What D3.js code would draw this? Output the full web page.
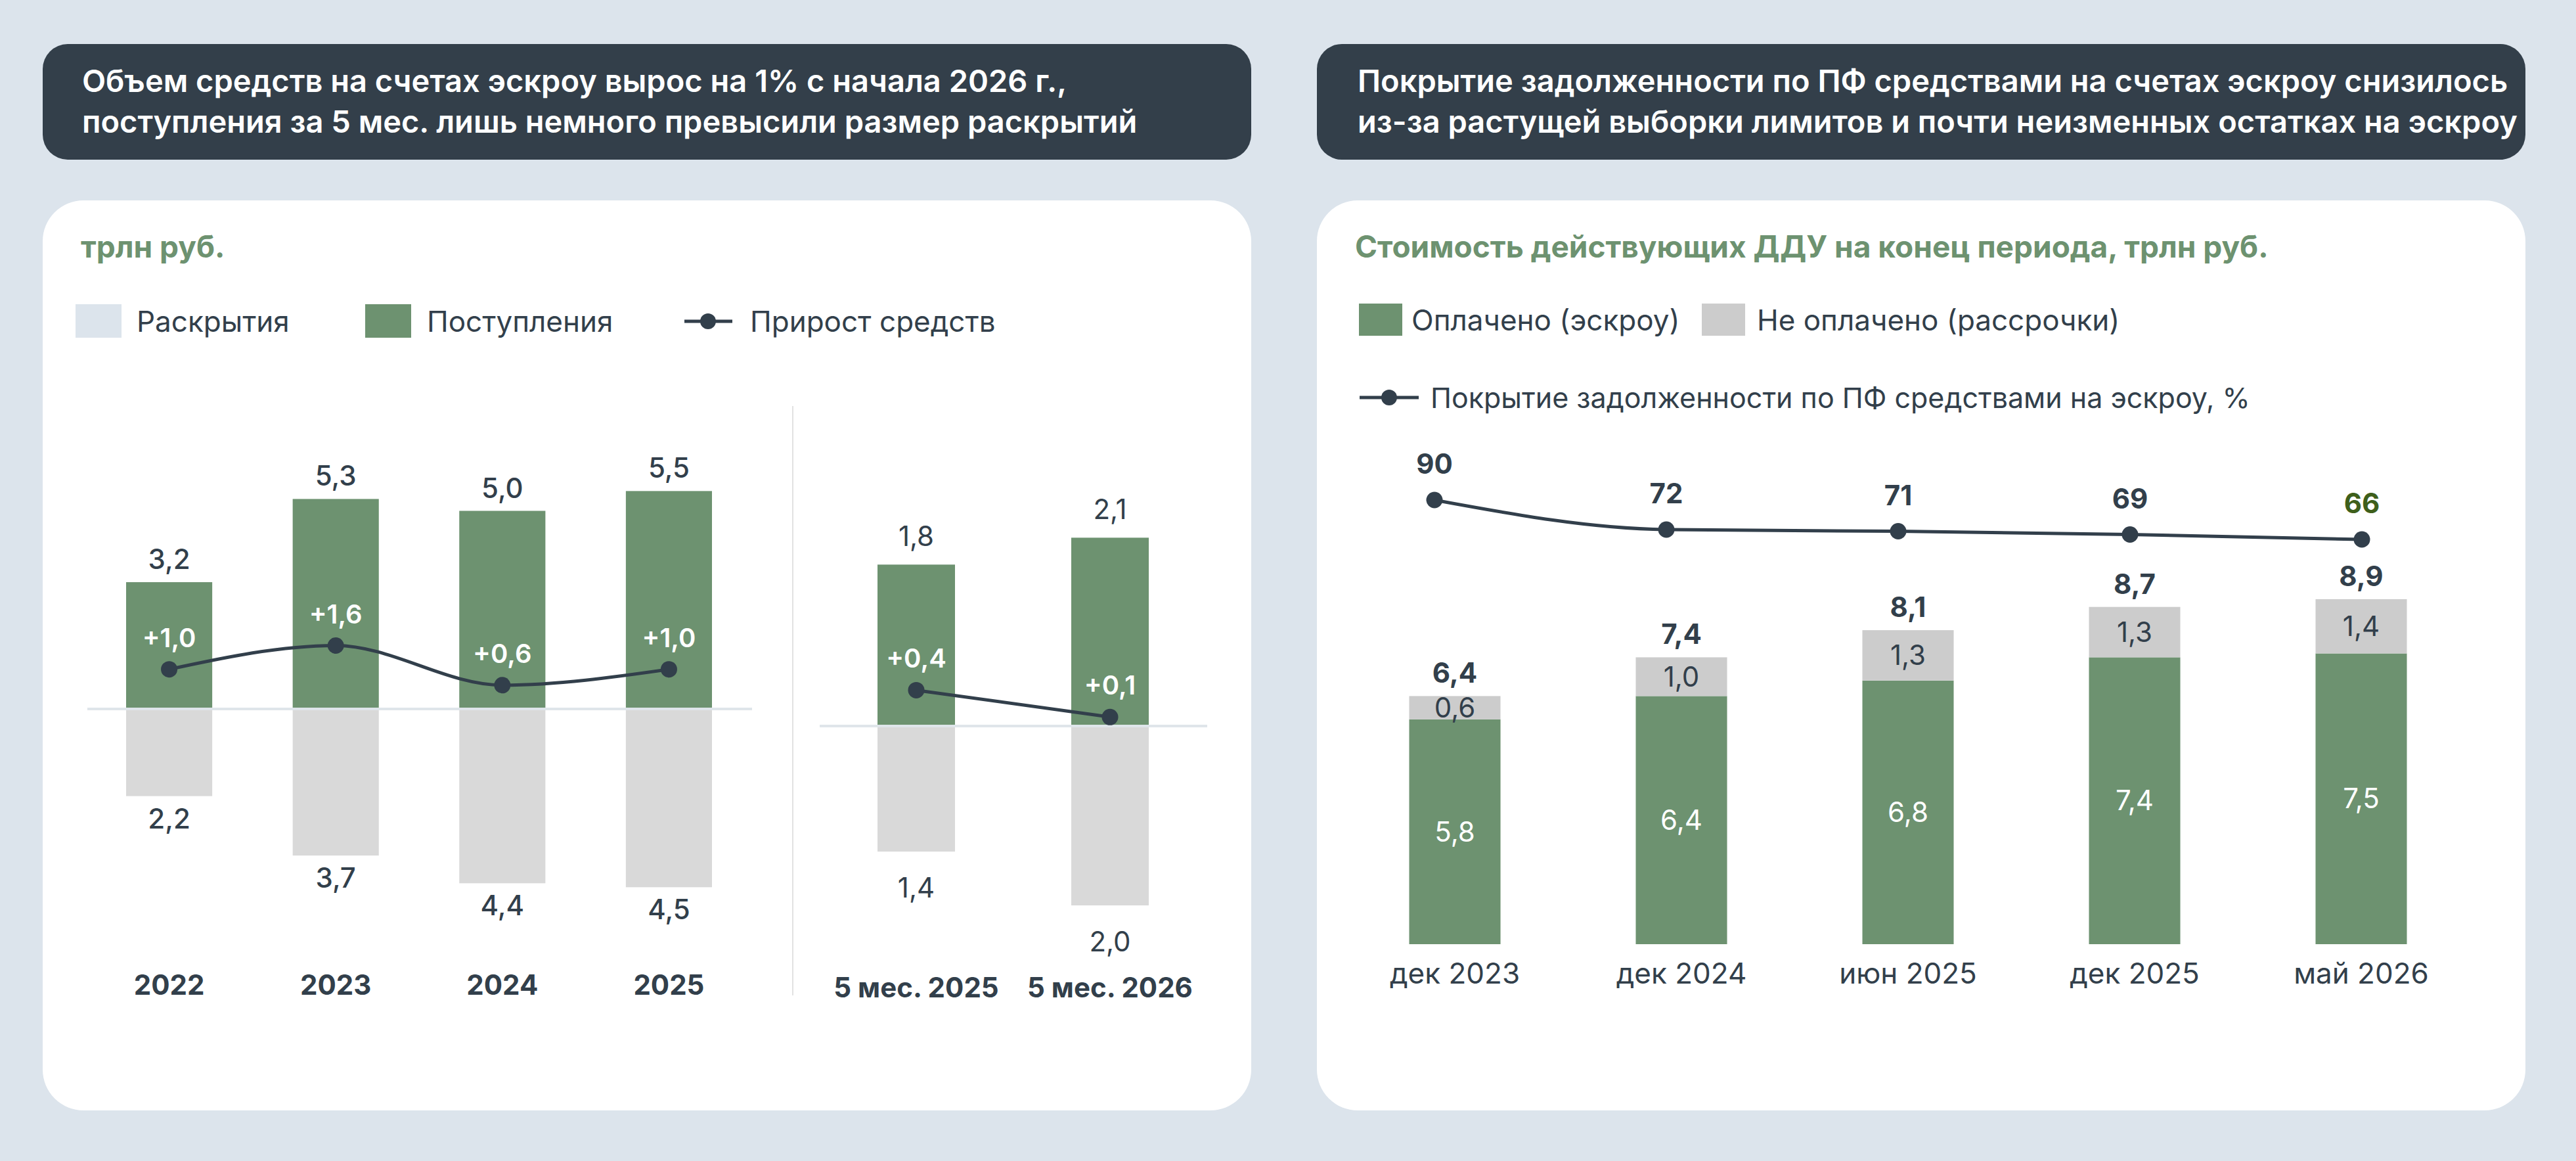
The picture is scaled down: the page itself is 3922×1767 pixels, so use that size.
<!DOCTYPE html>
<html>
<head>
<meta charset="utf-8">
<script src="https://cdn.jsdelivr.net/npm/d3@7"></script>
<style>
  html, body { margin: 0; padding: 0; background: #dce4ec; }
  svg { display: block; font-family: Inter, 'Noto Sans', sans-serif; }
</style>
</head>
<body>
<script>
// --- data ---
const yearCats = ['2022', '2023', '2024', '2025'];
const yearInflow = [3.2, 5.3, 5.0, 5.5];
const yearOutflow = [2.2, 3.7, 4.4, 4.5];
const yearGrowth = [1.0, 1.6, 0.6, 1.0];

const ytdCats = ['5 мес. 2025', '5 мес. 2026'];
const ytdInflow = [1.8, 2.1];
const ytdOutflow = [1.4, 2.0];
const ytdGrowth = [0.4, 0.1];

const dduCats = ['дек 2023', 'дек 2024', 'июн 2025', 'дек 2025', 'май 2026'];
const dduPaid = [5.8, 6.4, 6.8, 7.4, 7.5];
const dduUnpaid = [0.6, 1.0, 1.3, 1.3, 1.4];
const dduTotal = [6.4, 7.4, 8.1, 8.7, 8.9];
const coverage = [90, 72, 71, 69, 66];

const headLeft = [
  'Объем средств на счетах эскроу вырос на 1% с начала 2026 г.,',
  'поступления за 5 мес. лишь немного превысили размер раскрытий',
];
const headRight = [
  'Покрытие задолженности по ПФ средствами на счетах эскроу снизилось',
  'из-за растущей выборки лимитов и почти неизменных остатках на эскроу',
];

// --- style ---
const width = 3922;
const height = 1767;
const green = '#6d9270';
const dark = '#323f4b';
const grayL = '#d9d9d9';
const grayR = '#cccccc';
const bg = '#dce4ec';
const fmt = v => d3.format('.1f')(v).replace('.', ',');
const fmtSigned = v => '+' + fmt(v);

const svg = d3
  .select('body')
  .append('svg')
  .attr('width', width)
  .attr('height', height);

svg.append('rect').attr('width', width).attr('height', height).attr('fill', bg);

// header boxes and panels
[
  { x: 65, lines: headLeft, tx: 125 },
  { x: 2005, lines: headRight, tx: 2067 },
].forEach(p => {
  svg
    .append('rect')
    .attr('x', p.x)
    .attr('y', 67)
    .attr('width', 1840)
    .attr('height', 176)
    .attr('rx', 38)
    .attr('fill', '#333f4a');
  svg
    .append('g')
    .selectAll('text')
    .data(p.lines)
    .join('text')
    .attr('x', p.tx)
    .attr('y', (d, i) => 140 + i * 62)
    .attr('fill', '#fff')
    .attr('font-size', 47)
    .attr('font-weight', 600)
    .text(d => d);
  svg
    .append('rect')
    .attr('x', p.x)
    .attr('y', 305)
    .attr('width', 1840)
    .attr('height', 1385)
    .attr('rx', 62)
    .attr('fill', '#fff');
});

// ================= LEFT PANEL =================
const left = svg.append('g');

left
  .append('text')
  .attr('x', 123)
  .attr('y', 392)
  .attr('fill', green)
  .attr('font-size', 46)
  .attr('font-weight', 700)
  .text('трлн руб.');

// legend
const legL = left.append('g').attr('font-size', 44).attr('fill', dark);
legL.append('rect').attr('x', 115).attr('y', 463).attr('width', 70).attr('height', 51).attr('fill', bg);
legL.append('text').attr('x', 208).attr('y', 505).text('Раскрытия');
legL.append('rect').attr('x', 556).attr('y', 463).attr('width', 70).attr('height', 51).attr('fill', green);
legL.append('text').attr('x', 650).attr('y', 505).text('Поступления');
legL.append('line').attr('x1', 1042).attr('x2', 1115).attr('y1', 489).attr('y2', 489).attr('stroke', dark).attr('stroke-width', 5);
legL.append('circle').attr('cx', 1078).attr('cy', 489).attr('r', 12).attr('fill', dark);
legL.append('text').attr('x', 1142).attr('y', 505).text('Прирост средств');

function flowChart(g, cats, inflow, outflow, growth, xRange, pad, yDomain, yRange, zeroX, opts) {
  const x = d3.scaleBand().domain(cats).range(xRange).paddingInner(pad).paddingOuter(0);
  const y = d3.scaleLinear().domain(yDomain).range(yRange);
  const cx = c => x(c) + x.bandwidth() / 2;

  g.selectAll(null)
    .data(cats)
    .join('rect')
    .attr('x', d => x(d))
    .attr('y', (d, i) => y(inflow[i]))
    .attr('width', x.bandwidth())
    .attr('height', (d, i) => y(0) - y(inflow[i]))
    .attr('fill', green);

  g.selectAll(null)
    .data(cats)
    .join('rect')
    .attr('x', d => x(d))
    .attr('y', y(0))
    .attr('width', x.bandwidth())
    .attr('height', (d, i) => y(-outflow[i]) - y(0))
    .attr('fill', grayL);

  g.append('line')
    .attr('x1', zeroX[0])
    .attr('x2', zeroX[1])
    .attr('y1', y(0))
    .attr('y2', y(0))
    .attr('stroke', '#dfe5ea')
    .attr('stroke-width', 4);

  // value labels
  g.selectAll(null)
    .data(cats)
    .join('text')
    .attr('x', cx)
    .attr('y', (d, i) => y(inflow[i]) - opts.topGap)
    .attr('text-anchor', 'middle')
    .attr('font-size', 42)
    .attr('font-weight', opts.valueWeight)
    .attr('fill', dark)
    .text((d, i) => fmt(inflow[i]));

  g.selectAll(null)
    .data(cats)
    .join('text')
    .attr('x', cx)
    .attr('y', (d, i) => y(-outflow[i]) + opts.bottomGap)
    .attr('text-anchor', 'middle')
    .attr('font-size', 42)
    .attr('font-weight', opts.valueWeight)
    .attr('fill', dark)
    .text((d, i) => fmt(outflow[i]));

  // growth line
  const line = d3
    .line()
    .x((d, i) => cx(cats[i]))
    .y(d => y(d))
    .curve(d3.curveMonotoneX);
  g.append('path')
    .attr('d', line(growth))
    .attr('fill', 'none')
    .attr('stroke', dark)
    .attr('stroke-width', 5);
  g.selectAll(null)
    .data(growth)
    .join('circle')
    .attr('cx', (d, i) => cx(cats[i]))
    .attr('cy', d => y(d))
    .attr('r', 12.5)
    .attr('fill', dark);
  g.selectAll(null)
    .data(growth)
    .join('text')
    .attr('x', (d, i) => cx(cats[i]))
    .attr('y', d => y(d) - 34)
    .attr('text-anchor', 'middle')
    .attr('font-size', 40)
    .attr('font-weight', 600)
    .attr('fill', '#fff')
    .text(d => fmtSigned(d));

  // category labels
  g.selectAll(null)
    .data(cats)
    .join('text')
    .attr('x', cx)
    .attr('y', opts.catY)
    .attr('text-anchor', 'middle')
    .attr('font-size', 42)
    .attr('font-weight', 700)
    .attr('fill', dark)
    .text(d => d);
}

flowChart(
  left.append('g'),
  yearCats, yearInflow, yearOutflow, yearGrowth,
  [192, 1084], 0.483, [-5, 6], [1380.5, 717.2], [133, 1145],
  { topGap: 20, bottomGap: 49, valueWeight: 500, catY: 1514 }
);
flowChart(
  left.append('g'),
  ytdCats, ytdInflow, ytdOutflow, ytdGrowth,
  [1336, 1749], 0.6, [-2.5, 2.5], [1446.25, 763.75], [1248, 1838],
  { topGap: 28, bottomGap: 70, valueWeight: 400, catY: 1518 }
);

// separator
left
  .append('line')
  .attr('x1', 1207)
  .attr('x2', 1207)
  .attr('y1', 618)
  .attr('y2', 1515)
  .attr('stroke', '#e2e2e2')
  .attr('stroke-width', 2);

// ================= RIGHT PANEL =================
const right = svg.append('g');

right
  .append('text')
  .attr('x', 2063)
  .attr('y', 392)
  .attr('fill', green)
  .attr('font-size', 46)
  .attr('font-weight', 700)
  .text('Стоимость действующих ДДУ на конец периода, трлн руб.');

const legR = right.append('g').attr('font-size', 44).attr('fill', dark);
legR.append('rect').attr('x', 2069).attr('y', 462).attr('width', 66).attr('height', 49).attr('fill', green);
legR.append('text').attr('x', 2149).attr('y', 503).text('Оплачено (эскроу)');
legR.append('rect').attr('x', 2591).attr('y', 462).attr('width', 66).attr('height', 49).attr('fill', grayR);
legR.append('text').attr('x', 2675).attr('y', 503).text('Не оплачено (рассрочки)');
legR.append('line').attr('x1', 2070).attr('x2', 2160).attr('y1', 605).attr('y2', 605).attr('stroke', dark).attr('stroke-width', 5);
legR.append('circle').attr('cx', 2115).attr('cy', 605).attr('r', 12).attr('fill', dark);
legR.append('text').attr('x', 2178).attr('y', 621).attr('font-size', 43).text('Покрытие задолженности по ПФ средствами на эскроу, %');

const xb = d3.scaleBand().domain(dduCats).range([2145.5, 3664.5]).paddingInner(0.597).paddingOuter(0);
const yb = d3.scaleLinear().domain([0, 10]).range([1437, 847]);
const bx = c => xb(c) + xb.bandwidth() / 2;

const stack = d3
  .stack()
  .keys(['paid', 'unpaid'])(dduCats.map((c, i) => ({ cat: c, paid: dduPaid[i], unpaid: dduUnpaid[i] })));
const segColor = { paid: green, unpaid: grayR };
const segText = { paid: '#fff', unpaid: dark };

stack.forEach(layer => {
  right
    .append('g')
    .selectAll('rect')
    .data(layer)
    .join('rect')
    .attr('x', d => xb(d.data.cat))
    .attr('y', d => yb(d[1]))
    .attr('width', xb.bandwidth())
    .attr('height', d => yb(d[0]) - yb(d[1]))
    .attr('fill', segColor[layer.key]);
  right
    .append('g')
    .selectAll('text')
    .data(layer)
    .join('text')
    .attr('x', d => bx(d.data.cat))
    .attr('y', d => (yb(d[0]) + yb(d[1])) / 2)
    .attr('dy', '0.35em')
    .attr('text-anchor', 'middle')
    .attr('font-size', 42)
    .attr('fill', segText[layer.key])
    .text(d => fmt(d.data[layer.key]));
});

right
  .append('g')
  .selectAll('text')
  .data(dduTotal)
  .join('text')
  .attr('x', (d, i) => bx(dduCats[i]))
  .attr('y', d => yb(d) - 20)
  .attr('text-anchor', 'middle')
  .attr('font-size', 42)
  .attr('font-weight', 700)
  .attr('fill', dark)
  .text(d => fmt(d));

right
  .append('g')
  .selectAll('text')
  .data(dduCats)
  .join('text')
  .attr('x', bx)
  .attr('y', 1497)
  .attr('text-anchor', 'middle')
  .attr('font-size', 44)
  .attr('fill', dark)
  .text(d => d);

// coverage line
const xl = d3.scalePoint().domain(dduCats).range([2184, 3596]);
const yl = d3.scaleLinear().domain([60, 100]).range([836, 736]);
const covLine = d3
  .line()
  .x((d, i) => xl(dduCats[i]))
  .y(d => yl(d))
  .curve(d3.curveMonotoneX);
right
  .append('path')
  .attr('d', covLine(coverage))
  .attr('fill', 'none')
  .attr('stroke', dark)
  .attr('stroke-width', 5);
right
  .append('g')
  .selectAll('circle')
  .data(coverage)
  .join('circle')
  .attr('cx', (d, i) => xl(dduCats[i]))
  .attr('cy', d => yl(d))
  .attr('r', 12.5)
  .attr('fill', dark);
right
  .append('g')
  .selectAll('text')
  .data(coverage)
  .join('text')
  .attr('x', (d, i) => xl(dduCats[i]))
  .attr('y', d => yl(d) - 40)
  .attr('text-anchor', 'middle')
  .attr('font-size', 42)
  .attr('font-weight', 700)
  .attr('fill', (d, i) => (i === coverage.length - 1 ? '#3e5f1b' : dark))
  .text(d => d);
</script>
</body>
</html>
